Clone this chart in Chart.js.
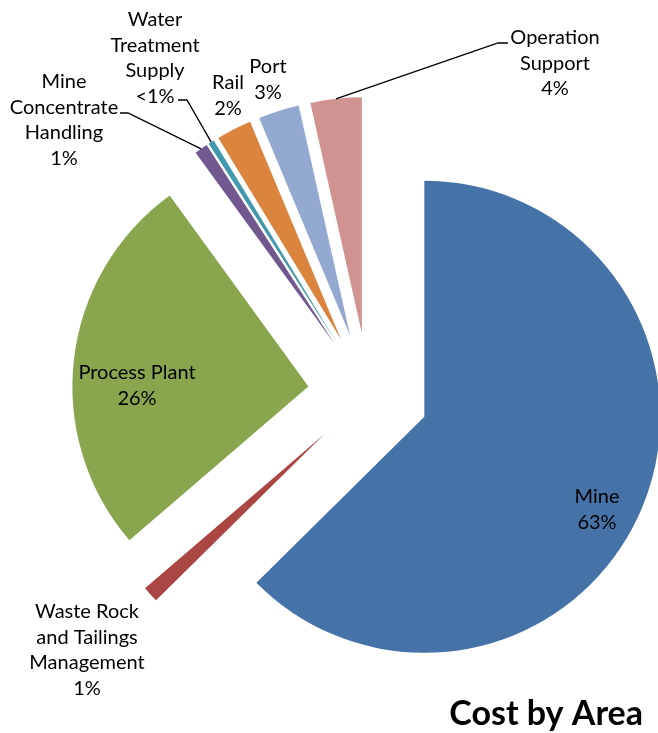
<!DOCTYPE html>
<html>
<head>
<meta charset="utf-8">
<script src="https://cdn.jsdelivr.net/npm/chart.js@4/dist/chart.umd.min.js"></script>
<style>
  body { margin: 0; background: #fff; }
  #grafico { display: block; }
</style>
</head>
<body>
<canvas id="grafico" width="658" height="733"></canvas>
<script>
// dados (percentuais)
const areas = [
    ['Mine'],
    ['Waste Rock', 'and Tailings', 'Management'],
    ['Process Plant'],
    ['Mine', 'Concentrate', 'Handling'],
    ['Water', 'Treatment', 'Supply'],
    ['Rail'],
    ['Port'],
    ['Operation', 'Support']
]
const custos = [62.6, 1.1, 26.3, 0.9, 0.4, 2.4, 2.8, 3.5]
const cores = ['#4572A7', '#AA4643', '#89A54E', '#71588F', '#4198AF', '#DB843D', '#93A9CF', '#D19392']
const titulo = 'Cost by Area'

// layout dos rotulos (centro x, y da primeira linha) e das linhas de chamada
const posRotulos = [
    [597, 497], [87, 612], [137, 373], [64, 82],
    [155, 20], [228, 83], [268, 67], [555, 38]
]
const chamadas = {
    3: [[120, 113], [128, 113]],
    4: [[178, 100], [187, 100]],
    7: [[508, 43], [498, 43]]
}
const explosao = 60.5
const alturaLinha = 25.5

/* texto do percentual */
function textoPct(v) {
    return Math.round(v) < 1 ? '<1%' : Math.round(v) + '%'
}

/* afasta cada fatia do centro */
const explodir = {
    id: 'explodir',
    afterDatasetUpdate(chart) {
        chart.getDatasetMeta(0).data.forEach(arc => {
            const meio = (arc.startAngle + arc.endAngle) / 2
            arc.x += Math.cos(meio) * explosao
            arc.y += Math.sin(meio) * explosao
        })
    }
}

/* rotulos, chamadas e titulo */
const rotulos = {
    id: 'rotulos',
    afterDraw(chart) {
        const ctx = chart.ctx
        const arcos = chart.getDatasetMeta(0).data
        ctx.save()
        ctx.strokeStyle = '#000'
        ctx.lineWidth = 1.3
        Object.keys(chamadas).forEach(i => {
            const arc = arcos[i]
            const meio = (arc.startAngle + arc.endAngle) / 2
            const fim = [arc.x + Math.cos(meio) * arc.outerRadius, arc.y + Math.sin(meio) * arc.outerRadius]
            ctx.beginPath()
            ctx.moveTo(chamadas[i][0][0], chamadas[i][0][1])
            ctx.lineTo(chamadas[i][1][0], chamadas[i][1][1])
            ctx.lineTo(fim[0], fim[1])
            ctx.stroke()
        })
        ctx.fillStyle = '#000'
        ctx.font = '20px Lato'
        ctx.textAlign = 'center'
        ctx.textBaseline = 'middle'
        areas.forEach((linhas, i) => {
            const todas = linhas.concat([textoPct(custos[i])])
            todas.forEach((t, j) => {
                ctx.fillText(t, posRotulos[i][0], posRotulos[i][1] + j * alturaLinha)
            })
        })
        ctx.font = 'bold 34px Lato'
        ctx.textAlign = 'right'
        ctx.textBaseline = 'alphabetic'
        ctx.fillText(titulo, 643, 725)
        ctx.restore()
    }
}

const grafico = new Chart(document.querySelector('#grafico'), {
    type: 'pie',
    data: {
        labels: areas,
        datasets: [{
            data: custos,
            backgroundColor: cores,
            borderWidth: 0,
            clip: false
        }]
    },
    options: {
        responsive: false,
        animation: false,
        events: [],
        radius: 236,
        layout: { padding: { left: 79, top: 54, right: 0, bottom: 0 } },
        plugins: {
            legend: { display: false },
            tooltip: { enabled: false }
        }
    },
    plugins: [explodir, rotulos]
})
</script>
</body>
</html>
